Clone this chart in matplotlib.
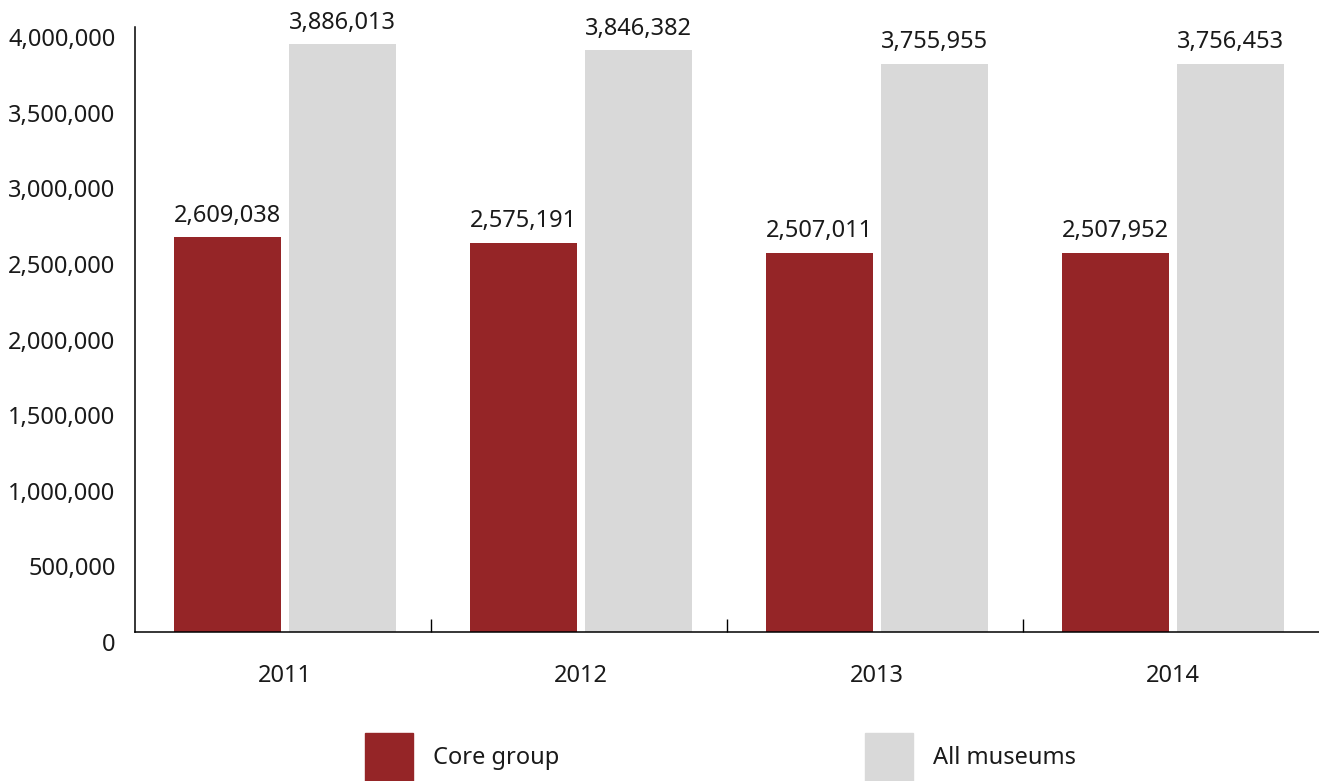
import numpy as np
import matplotlib.pyplot as plt
import matplotlib.transforms as mtransforms
from matplotlib.patches import Patch
from matplotlib.ticker import FuncFormatter

plt.rcParams['font.family'] = ['Noto Sans', 'DejaVu Sans']

years = ['2011', '2012', '2013', '2014']
core_group = [2609038, 2575191, 2507011, 2507952]
all_museums = [3886013, 3846382, 3755955, 3756453]

red = '#952527'
grey = '#d9d9d9'
fs = 17

fig = plt.figure(figsize=(13.19, 7.81), dpi=100)
ax = fig.add_axes([135/1319, 149/781, 1 - 135/1319, 605/781])

x = np.arange(len(years))
w = 0.362
b1 = ax.bar(x - 0.1875, core_group, w, color=red)
b2 = ax.bar(x + 0.201, all_museums, w, color=grey)

for bars, vals in ((b1, core_group), (b2, all_museums)):
    for bar, v in zip(bars, vals):
        ax.annotate(f'{v:,}', (bar.get_x() + bar.get_width()/2, v),
                    xytext=(0, 7), textcoords='offset points',
                    ha='center', va='bottom', fontsize=fs, color='#1a1a1a')

ax.set_xlim(-0.5, 3.5)
ax.set_ylim(0, 4000000)
ax.set_yticks(np.arange(0, 4000001, 500000))
ax.yaxis.set_major_formatter(FuncFormatter(lambda v, p: f'{int(v):,}'))
ax.tick_params(axis='y', length=0, pad=14, labelsize=fs, labelcolor='#1a1a1a')

# labels sit a little below their gridline value in the original
offset = mtransforms.ScaledTranslation(0, -10/100, fig.dpi_scale_trans)
for lab in ax.get_yticklabels():
    lab.set_transform(lab.get_transform() + offset)

ax.set_xticks(x + 0.007)
ax.set_xticklabels(years)
ax.tick_params(axis='x', length=0, pad=23, labelsize=fs, labelcolor='#1a1a1a')
ax.set_xticks([0.5, 1.5, 2.5], minor=True)
ax.tick_params(axis='x', which='minor', direction='in', length=9.5, width=1, color='black')

for s in ['top', 'right']:
    ax.spines[s].set_visible(False)
ax.spines['left'].set_linewidth(1.1)
ax.spines['bottom'].set_linewidth(1.1)

handles = [Patch(color=red, label='Core group'), Patch(color=grey, label='All museums')]
fig.legend(handles=handles, loc='lower left', bbox_to_anchor=(365/1319, 0.0),
           ncol=2, frameon=False, fontsize=fs, handlelength=2.03, handleheight=2.75,
           handletextpad=0.85, columnspacing=12.95, borderpad=0, borderaxespad=0,
           labelcolor='#1a1a1a')

fig.savefig('out.png', dpi=100)
